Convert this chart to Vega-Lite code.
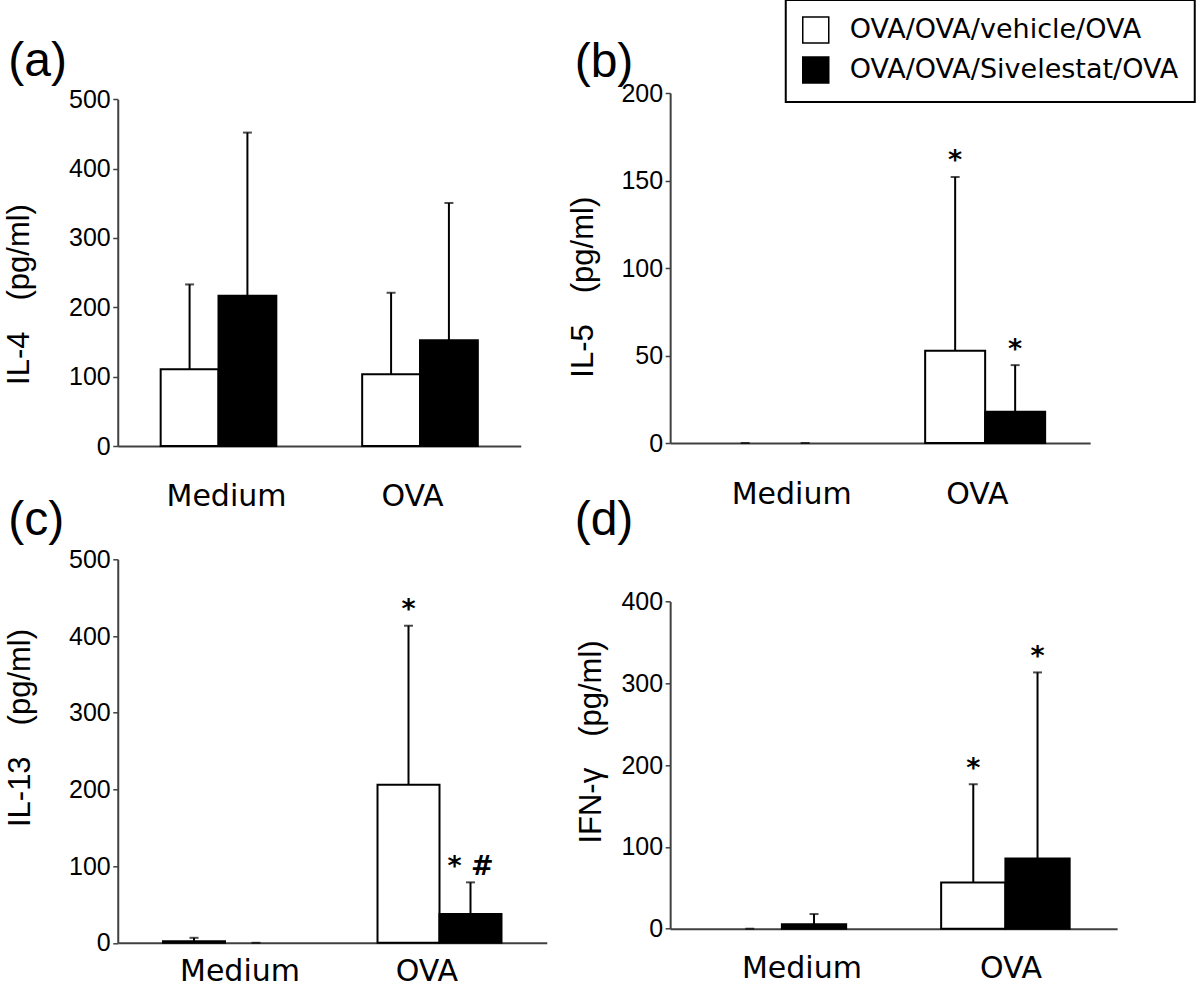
{
  "$schema": "https://vega.github.io/schema/vega-lite/v6.json",
  "autosize": {"type": "none"},
  "padding": {"left": 117.75, "top": 93, "right": 1082.25, "bottom": 896},
  "background": "white",
  "data": {"values": [
    {"panel": "a", "cat": "Medium", "grp": "OVA/OVA/vehicle/OVA", "mean": 110.6, "upper": 233, "sig": ""},
    {"panel": "a", "cat": "Medium", "grp": "OVA/OVA/Sivelestat/OVA", "mean": 216.8, "upper": 452, "sig": ""},
    {"panel": "a", "cat": "OVA", "grp": "OVA/OVA/vehicle/OVA", "mean": 103.4, "upper": 221, "sig": ""},
    {"panel": "a", "cat": "OVA", "grp": "OVA/OVA/Sivelestat/OVA", "mean": 152.4, "upper": 350.5, "sig": ""},
    {"panel": "b", "cat": "Medium", "grp": "OVA/OVA/vehicle/OVA", "mean": 0, "upper": 0, "sig": ""},
    {"panel": "b", "cat": "Medium", "grp": "OVA/OVA/Sivelestat/OVA", "mean": 0, "upper": 0, "sig": ""},
    {"panel": "b", "cat": "OVA", "grp": "OVA/OVA/vehicle/OVA", "mean": 52.7, "upper": 152, "sig": "*"},
    {"panel": "b", "cat": "OVA", "grp": "OVA/OVA/Sivelestat/OVA", "mean": 17.8, "upper": 44.5, "sig": "*"},
    {"panel": "c", "cat": "Medium", "grp": "OVA/OVA/vehicle/OVA", "mean": 2, "upper": 6.5, "sig": ""},
    {"panel": "c", "cat": "Medium", "grp": "OVA/OVA/Sivelestat/OVA", "mean": 0, "upper": 0, "sig": ""},
    {"panel": "c", "cat": "OVA", "grp": "OVA/OVA/vehicle/OVA", "mean": 206, "upper": 413.4, "sig": "*"},
    {"panel": "c", "cat": "OVA", "grp": "OVA/OVA/Sivelestat/OVA", "mean": 37.7, "upper": 78.8, "sig": "* #"},
    {"panel": "d", "cat": "Medium", "grp": "OVA/OVA/vehicle/OVA", "mean": 0, "upper": 0, "sig": ""},
    {"panel": "d", "cat": "Medium", "grp": "OVA/OVA/Sivelestat/OVA", "mean": 5.3, "upper": 17.9, "sig": ""},
    {"panel": "d", "cat": "OVA", "grp": "OVA/OVA/vehicle/OVA", "mean": 56.6, "upper": 176.6, "sig": "*"},
    {"panel": "d", "cat": "OVA", "grp": "OVA/OVA/Sivelestat/OVA", "mean": 85.9, "upper": 313.3, "sig": "*"}
  ]},
  "columns": 2,
  "align": "each",
  "bounds": "flush",
  "spacing": {"row": 113.3, "column": 123.4},
  "resolve": {"scale": {"x": "independent", "y": "independent", "xOffset": "independent", "color": "shared"}, "legend": {"color": "shared"}},
  "concat": [
    {
      "width": 403, "height": 353,
      "transform": [{"filter": "datum.panel === 'a'"}],
      "title": {"text": "(a)", "anchor": "start", "frame": "group", "baseline": "alphabetic", "offset": 11.8, "dy": 48.7, "dx": -109.5, "font": "Liberation Sans", "fontSize": 48, "fontWeight": "normal", "color": "black"},
      "encoding": {
        "x": {"field": "cat", "type": "nominal", "sort": ["Medium", "OVA"], "title": null,
              "scale": {"paddingInner": 0.426, "paddingOuter": 0.213},
              "axis": {"labelPadding": 35.3, "labelOffset": {"condition": {"test": "datum.value === 'Medium'", "value": 8}, "value": -7.5}}},
        "xOffset": {"field": "grp", "type": "nominal", "sort": ["OVA/OVA/vehicle/OVA", "OVA/OVA/Sivelestat/OVA"], "scale": {"paddingInner": 0, "paddingOuter": 0}}
      },
      "layer": [
        {"mark": {"type": "bar", "stroke": "black", "strokeWidth": 2},
         "encoding": {
           "y": {"field": "mean", "type": "quantitative", "title": "IL-4\u2003(pg/ml)", "scale": {"domain": [0, 500], "range": [353, 6.3], "nice": false},
                 "axis": {"values": [0, 100, 200, 300, 400, 500], "titleX": -89, "titleY": 201}},
           "strokeOpacity": {"condition": {"test": "datum.mean === 0", "value": 0}, "value": 1},
           "color": {"field": "grp", "type": "nominal", "sort": ["OVA/OVA/vehicle/OVA", "OVA/OVA/Sivelestat/OVA"],
                     "scale": {"domain": ["OVA/OVA/vehicle/OVA", "OVA/OVA/Sivelestat/OVA"], "range": ["#ffffff", "#000000"]},
                     "legend": {"title": null, "orient": "none", "legendX": 668, "legendY": -93}}
         }},
        {"mark": {"type": "rule", "strokeWidth": 2, "color": "black"},
         "encoding": {"y": {"field": "mean", "type": "quantitative", "title": "IL-4\u2003(pg/ml)"}, "y2": {"field": "upper"}}},
        {"mark": {"type": "tick", "orient": "horizontal", "size": 9, "thickness": 2, "color": "black"},
         "encoding": {"y": {"field": "upper", "type": "quantitative", "title": "IL-4\u2003(pg/ml)"}}},
        {"mark": {"type": "text", "font": "DejaVu Sans", "fontWeight": "bold", "fontSize": 27, "baseline": "alphabetic", "dy": -7.6, "color": "black"},
         "encoding": {"y": {"field": "upper", "type": "quantitative", "title": "IL-4\u2003(pg/ml)"}, "text": {"field": "sig"}}}
      ]
    },
    {
      "width": 420, "height": 350,
      "transform": [{"filter": "datum.panel === 'b'"}],
      "title": {"text": "(b)", "anchor": "start", "frame": "group", "baseline": "alphabetic", "offset": 5.2, "dy": 48.7, "dx": -95.5, "font": "Liberation Sans", "fontSize": 48, "fontWeight": "normal", "color": "black"},
      "encoding": {
        "x": {"field": "cat", "type": "nominal", "sort": ["Medium", "OVA"], "title": null,
              "scale": {"paddingInner": 0.4286, "paddingOuter": 0.2143},
              "axis": {"labelPadding": 36.9, "labelOffset": {"condition": {"test": "datum.value === 'Medium'", "value": 16.5}, "value": -7.8}}},
        "xOffset": {"field": "grp", "type": "nominal", "sort": ["OVA/OVA/vehicle/OVA", "OVA/OVA/Sivelestat/OVA"], "scale": {"paddingInner": 0, "paddingOuter": 0}}
      },
      "layer": [
        {"mark": {"type": "bar", "stroke": "black", "strokeWidth": 2},
         "encoding": {
           "y": {"field": "mean", "type": "quantitative", "title": "IL-5\u2003(pg/ml)", "scale": {"domain": [0, 200], "nice": false},
                 "axis": {"values": [0, 50, 100, 150, 200], "titleX": -77.5, "titleY": 193.7}},
           "strokeOpacity": {"condition": {"test": "datum.mean === 0", "value": 0}, "value": 1},
           "color": {"field": "grp", "type": "nominal", "sort": ["OVA/OVA/vehicle/OVA", "OVA/OVA/Sivelestat/OVA"],
                     "scale": {"domain": ["OVA/OVA/vehicle/OVA", "OVA/OVA/Sivelestat/OVA"], "range": ["#ffffff", "#000000"]},
                     "legend": {"title": null, "orient": "none", "legendX": 668, "legendY": -93}}
         }},
        {"mark": {"type": "rule", "strokeWidth": 2, "color": "black"},
         "encoding": {"y": {"field": "mean", "type": "quantitative", "title": "IL-5\u2003(pg/ml)"}, "y2": {"field": "upper"}}},
        {"mark": {"type": "tick", "orient": "horizontal", "size": 9, "thickness": 2, "color": "black"},
         "encoding": {"y": {"field": "upper", "type": "quantitative", "title": "IL-5\u2003(pg/ml)"}}},
        {"mark": {"type": "text", "font": "DejaVu Sans", "fontWeight": "bold", "fontSize": 27, "baseline": "alphabetic", "dy": -7.6, "color": "black"},
         "encoding": {"y": {"field": "upper", "type": "quantitative", "title": "IL-5\u2003(pg/ml)"}, "text": {"field": "sig"}}}
      ]
    },
    {
      "width": 429, "height": 383.5,
      "transform": [{"filter": "datum.panel === 'c'"}],
      "title": {"text": "(c)", "anchor": "start", "frame": "group", "baseline": "alphabetic", "offset": 10.5, "dy": 46, "dx": -109.6, "font": "Liberation Sans", "fontSize": 48, "fontWeight": "normal", "color": "black"},
      "encoding": {
        "x": {"field": "cat", "type": "nominal", "sort": ["Medium", "OVA"], "title": null,
              "scale": {"paddingInner": 0.422, "paddingOuter": 0.211},
              "axis": {"labelPadding": 13.5, "labelOffset": {"condition": {"test": "datum.value === 'Medium'", "value": 15}, "value": -12.7}}},
        "xOffset": {"field": "grp", "type": "nominal", "sort": ["OVA/OVA/vehicle/OVA", "OVA/OVA/Sivelestat/OVA"], "scale": {"paddingInner": 0, "paddingOuter": 0}}
      },
      "layer": [
        {"mark": {"type": "bar", "stroke": "black", "strokeWidth": 2},
         "encoding": {
           "y": {"field": "mean", "type": "quantitative", "title": "IL-13\u2003(pg/ml)", "scale": {"domain": [0, 500], "nice": false},
                 "axis": {"values": [0, 100, 200, 300, 400, 500], "titleX": -88.7, "titleY": 168.2}},
           "strokeOpacity": {"condition": {"test": "datum.mean === 0", "value": 0}, "value": 1},
           "color": {"field": "grp", "type": "nominal", "sort": ["OVA/OVA/vehicle/OVA", "OVA/OVA/Sivelestat/OVA"],
                     "scale": {"domain": ["OVA/OVA/vehicle/OVA", "OVA/OVA/Sivelestat/OVA"], "range": ["#ffffff", "#000000"]},
                     "legend": {"title": null, "orient": "none", "legendX": 668, "legendY": -93}}
         }},
        {"mark": {"type": "rule", "strokeWidth": 2, "color": "black"},
         "encoding": {"y": {"field": "mean", "type": "quantitative", "title": "IL-13\u2003(pg/ml)"}, "y2": {"field": "upper"}}},
        {"mark": {"type": "tick", "orient": "horizontal", "size": 9, "thickness": 2, "color": "black"},
         "encoding": {"y": {"field": "upper", "type": "quantitative", "title": "IL-13\u2003(pg/ml)"}}},
        {"mark": {"type": "text", "font": "DejaVu Sans", "fontWeight": "bold", "fontSize": 27, "baseline": "alphabetic", "dy": -7.6, "color": "black"},
         "encoding": {"y": {"field": "upper", "type": "quantitative", "title": "IL-13\u2003(pg/ml)"}, "text": {"field": "sig"}}}
      ]
    },
    {
      "width": 447, "height": 369.4,
      "transform": [{"filter": "datum.panel === 'd'"}],
      "title": {"text": "(d)", "anchor": "start", "frame": "group", "baseline": "alphabetic", "offset": 22.3, "dy": 46, "dx": -95.5, "font": "Liberation Sans", "fontSize": 48, "fontWeight": "normal", "color": "black"},
      "encoding": {
        "x": {"field": "cat", "type": "nominal", "sort": ["Medium", "OVA"], "title": null,
              "scale": {"paddingInner": 0.425, "paddingOuter": 0.2125},
              "axis": {"labelPadding": 24.6, "labelOffset": {"condition": {"test": "datum.value === 'Medium'", "value": 20}, "value": 5.6}}},
        "xOffset": {"field": "grp", "type": "nominal", "sort": ["OVA/OVA/vehicle/OVA", "OVA/OVA/Sivelestat/OVA"], "scale": {"paddingInner": 0, "paddingOuter": 0}}
      },
      "layer": [
        {"mark": {"type": "bar", "stroke": "black", "strokeWidth": 2},
         "encoding": {
           "y": {"field": "mean", "type": "quantitative", "title": "IFN-γ\u2003(pg/ml)", "scale": {"domain": [0, 400], "range": [369.4, 42.2], "nice": false},
                 "axis": {"values": [0, 100, 200, 300, 400], "titleX": -69.2, "titleY": 182.2}},
           "strokeOpacity": {"condition": {"test": "datum.mean === 0", "value": 0}, "value": 1},
           "color": {"field": "grp", "type": "nominal", "sort": ["OVA/OVA/vehicle/OVA", "OVA/OVA/Sivelestat/OVA"],
                     "scale": {"domain": ["OVA/OVA/vehicle/OVA", "OVA/OVA/Sivelestat/OVA"], "range": ["#ffffff", "#000000"]},
                     "legend": {"title": null, "orient": "none", "legendX": 668, "legendY": -93}}
         }},
        {"mark": {"type": "rule", "strokeWidth": 2, "color": "black"},
         "encoding": {"y": {"field": "mean", "type": "quantitative", "title": "IFN-γ\u2003(pg/ml)"}, "y2": {"field": "upper"}}},
        {"mark": {"type": "tick", "orient": "horizontal", "size": 9, "thickness": 2, "color": "black"},
         "encoding": {"y": {"field": "upper", "type": "quantitative", "title": "IFN-γ\u2003(pg/ml)"}}},
        {"mark": {"type": "text", "font": "DejaVu Sans", "fontWeight": "bold", "fontSize": 27, "baseline": "alphabetic", "dy": -7.6, "color": "black"},
         "encoding": {"y": {"field": "upper", "type": "quantitative", "title": "IFN-γ\u2003(pg/ml)"}, "text": {"field": "sig"}}}
      ]
    }
  ],
  "config": {
    "view": {"stroke": null},
    "axis": {"domainColor": "#404040", "domainWidth": 2, "grid": false, "labelColor": "black", "titleColor": "black"},
    "axisY": {"tickColor": "#404040", "tickWidth": 1.5, "tickSize": 5, "labelFont": "Liberation Sans", "labelFontSize": 25, "labelPadding": 2.5,
              "titleFont": "Liberation Sans", "titleFontSize": 31, "titleFontWeight": "normal", "titleAngle": 270, "titleBaseline": "alphabetic", "titleAlign": "center"},
    "axisX": {"ticks": false, "tickSize": 0, "labelFont": "DejaVu Sans", "labelFontSize": 30, "labelAngle": 0, "labelBaseline": "top", "labelLimit": 0},
    "legend": {"padding": 16, "strokeColor": "black", "strokeWidth": 2, "symbolType": "square", "symbolSize": 676, "symbolStrokeColor": "black", "symbolStrokeWidth": 1.5,
               "labelFont": "DejaVu Sans", "labelFontSize": 27, "labelColor": "black", "labelOffset": 20, "rowPadding": 8, "labelLimit": 0, "direction": "vertical"}
  }
}
